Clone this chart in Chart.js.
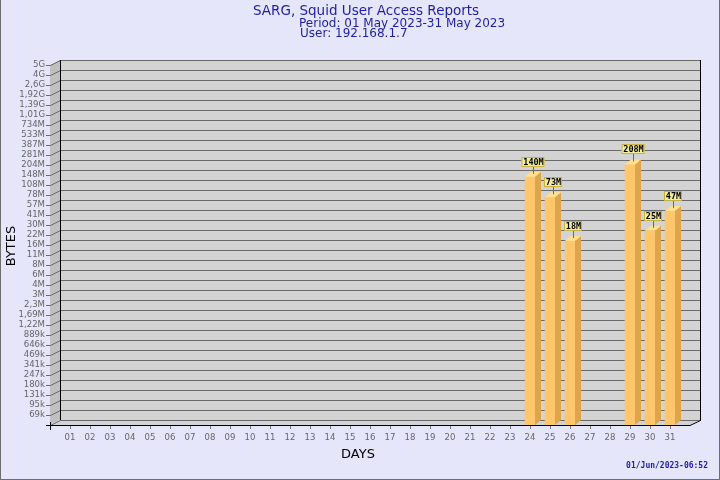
<!DOCTYPE html>
<html>
<head>
<meta charset="utf-8">
<script src="https://cdn.jsdelivr.net/npm/chart.js@4"></script>
<style>
    html, body { margin: 0; padding: 0; background: #e6e6fa; }
    canvas { display: block; }
</style>
</head>
<body>
<canvas id="sarg-chart" width="720" height="480"></canvas>
<script>
// ===== SARG user access chart (3D bar look) =====

const days = ['01', '02', '03', '04', '05', '06', '07', '08', '09', '10',
    '11', '12', '13', '14', '15', '16', '17', '18', '19', '20',
    '21', '22', '23', '24', '25', '26', '27', '28', '29', '30', '31'];

// bytes per day (null = no traffic)
const bytes = [null, null, null, null, null, null, null, null, null, null,
    null, null, null, null, null, null, null, null, null, null,
    null, null, null, 140e6, 73e6, 18e6, null, null, 208e6, 25e6, 47e6];

const yTickLabels = ['5G', '4G', '2,6G', '1,92G', '1,39G', '1,01G', '734M', '533M', '387M',
    '281M', '204M', '148M', '108M', '78M', '57M', '41M', '30M', '22M', '16M', '11M', '8M',
    '6M', '4M', '3M', '2,3M', '1,69M', '1,22M', '889k', '646k', '469k', '341k', '247k',
    '180k', '131k', '95k', '69k'];

const titleLines = ['SARG, Squid User Access Reports', 'Period: 01 May 2023-31 May 2023', 'User: 192.168.1.7'];
const xTitle = 'DAYS';
const yTitle = 'BYTES';
const stamp = '01/Jun/2023-06:52';

// SARG spaces its tick labels evenly on a log scale between the lowest and highest label
const Y_TOP = 5e9;
const Y_LOW = 69e3;
const stepRatio = Math.pow(Y_TOP / Y_LOW, 1 / (yTickLabels.length - 1));
const yTickValues = yTickLabels.map((l, i) => Y_TOP / Math.pow(stepRatio, i));
const Y_MIN = Y_LOW / stepRatio;

const WALL_DX = 10, WALL_DY = -5;   // depth of the back wall
const BAR_DX = 6, BAR_DY = -5;      // depth of each bar
const BAR_FRONT = '#ffc66c';
const BAR_SIDE = '#dea64c';
const BAR_TOP = '#ffe08e';
const NAVY = '#1e1ea0';
const TICK_FONT = { family: '"DejaVu Sans Condensed", "DejaVu Sans"', size: 9.5 };

function fmtBytes(v) {
    return Math.round(v / 1e6) + 'M';
}

function poly(ctx, pts, fill, stroke) {
    ctx.beginPath();
    ctx.moveTo(pts[0][0], pts[0][1]);
    for (let i = 1; i < pts.length; i++) ctx.lineTo(pts[i][0], pts[i][1]);
    ctx.closePath();
    if (fill) { ctx.fillStyle = fill; ctx.fill(); }
    if (stroke) { ctx.strokeStyle = stroke; ctx.stroke(); }
}

function line(ctx, x1, y1, x2, y2, color) {
    ctx.beginPath();
    ctx.moveTo(x1, y1);
    ctx.lineTo(x2, y2);
    ctx.strokeStyle = color;
    ctx.lineWidth = 1;
    ctx.stroke();
}

const sarg3d = {
    id: 'sarg3d',
    beforeDraw(chart) {
        const ctx = chart.ctx;
        ctx.save();
        ctx.fillStyle = '#e6e6fa';
        ctx.fillRect(0, 0, chart.width, chart.height);
        // frame (left, right, bottom)
        line(ctx, 0.5, 0, 0.5, chart.height, '#6e6e6e');
        line(ctx, chart.width - 0.5, 0, chart.width - 0.5, chart.height, '#6e6e6e');
        line(ctx, 0, chart.height - 0.5, chart.width, chart.height - 0.5, '#6e6e6e');
        ctx.restore();
    },
    beforeDatasetsDraw(chart) {
        const ctx = chart.ctx;
        const a = chart.chartArea;
        const y = chart.scales.y;
        const fl = a.left - WALL_DX, fr = a.right + WALL_DX;   // front plane
        const bl = a.left, br = a.right + 2 * WALL_DX;         // back plane
        const top = Math.round(y.getPixelForValue(Y_TOP));
        const bot = Math.round(y.getPixelForValue(Y_MIN));
        ctx.save();
        // back wall
        poly(ctx, [[bl, top + WALL_DY], [br, top + WALL_DY], [br, bot + WALL_DY], [bl, bot + WALL_DY]], '#d3d3d3');
        // left wall
        poly(ctx, [[fl, top], [bl, top + WALL_DY], [bl, bot + WALL_DY], [fl, bot]], '#c0c0c0');
        // floor
        poly(ctx, [[fl, bot], [bl, bot + WALL_DY], [br, bot + WALL_DY], [fr, bot]], '#d3d3d3');

        // grid lines on the back wall + connectors to the tick labels
        yTickValues.concat([Y_MIN]).forEach(v => {
            const py = Math.round(y.getPixelForValue(v)) + 0.5;
            line(ctx, fl - 4, py, fl + 0.5, py, v === Y_MIN ? '#000' : '#6a6a6a');
            line(ctx, fl + 0.5, py, bl + 0.5, py + WALL_DY, '#6a6a6a');
            line(ctx, bl, py + WALL_DY, br, py + WALL_DY, '#6a6a6a');
        });

        // edges
        line(ctx, bl + 0.5, top + WALL_DY, bl + 0.5, bot + WALL_DY, '#000');
        line(ctx, br + 0.5, top + WALL_DY, br + 0.5, bot + WALL_DY + 1, '#000');
        line(ctx, fl, bot + 0.5, fr, bot + 0.5, '#000');
        line(ctx, fr, bot + 0.5, br + 0.5, bot + WALL_DY + 0.5, '#000');
        line(ctx, fl + 0.5, bot - 3, fl + 0.5, bot + 5, '#000');
        ctx.restore();
    },
    afterDatasetsDraw(chart) {
        const ctx = chart.ctx;
        const meta = chart.getDatasetMeta(0);
        ctx.save();
        meta.data.forEach((bar, i) => {
            if (bytes[i] == null) return;
            const half = bar.width / 2;
            const x0 = bar.x - half, x1 = bar.x + half;
            const yt = bar.y, yb = bar.base;
            // side face
            poly(ctx, [[x1, yt], [x1 + BAR_DX, yt + BAR_DY], [x1 + BAR_DX, yb + BAR_DY], [x1, yb]], BAR_SIDE);
            // top face
            poly(ctx, [[x0, yt], [x0 + BAR_DX, yt + BAR_DY], [x1 + BAR_DX, yt + BAR_DY], [x1, yt]], BAR_TOP);

            // value label
            const txt = fmtBytes(bytes[i]);
            ctx.font = 'bold 8.5px "DejaVu Sans Mono"';
            const w = Math.ceil(ctx.measureText(txt).width) + 2;
            const cx = Math.round(bar.x + BAR_DX / 2);
            const by = Math.round(yt) - 20;
            line(ctx, cx + 0.5, by + 10, cx + 0.5, yt - 3, '#6a6a6a');
            ctx.fillStyle = '#f3eca0';
            ctx.fillRect(cx - w / 2, by, w, 10);
            ctx.strokeStyle = '#c9b23c';
            ctx.strokeRect(cx - w / 2 + 0.5, by + 0.5, w - 1, 9);
            ctx.fillStyle = '#000';
            ctx.textAlign = 'center';
            ctx.textBaseline = 'middle';
            ctx.fillText(txt, cx + 0.5, by + 5.5);
        });
        ctx.restore();
    },
    afterDraw(chart) {
        const ctx = chart.ctx;
        ctx.save();
        ctx.fillStyle = NAVY;
        ctx.textBaseline = 'middle';
        ctx.textAlign = 'left';
        ctx.font = '13.5px "DejaVu Sans"';
        ctx.fillText(titleLines[0], 253, 11);
        ctx.font = '12px "DejaVu Sans"';
        ctx.fillText(titleLines[1], 299, 23.5);
        ctx.fillText(titleLines[2], 300, 34);

        ctx.font = 'bold 8px "DejaVu Sans Mono"';
        ctx.textAlign = 'right';
        ctx.fillText(stamp, 708, 466);

        ctx.fillStyle = '#000';
        ctx.font = '13px "DejaVu Sans"';
        ctx.textAlign = 'center';
        ctx.fillText(xTitle, 358, 455);
        ctx.translate(12, 246);
        ctx.rotate(-Math.PI / 2);
        ctx.fillText(yTitle, 0, 0);
        ctx.restore();
    }
};

Chart.defaults.font.family = '"DejaVu Sans"';

const ctx = document.getElementById('sarg-chart').getContext('2d');
window.sargChart = new Chart(ctx, {
    type: 'bar',
    data: {
        labels: days,
        datasets: [{
            data: bytes,
            backgroundColor: BAR_FRONT,
            borderWidth: 0,
            barThickness: 10
        }]
    },
    options: {
        responsive: false,
        animation: false,
        layout: { padding: { top: 65, right: 40, bottom: 0, left: 0 } },
        plugins: {
            legend: { display: false },
            tooltip: { enabled: false }
        },
        scales: {
            x: {
                grid: { offset: false, drawOnChartArea: false, tickLength: 4, color: '#777' },
                border: { display: false },
                ticks: { color: '#666', font: TICK_FONT, padding: 3, autoSkip: false, maxRotation: 0 },
                afterFit: s => { s.height = 55; }
            },
            y: {
                type: 'logarithmic',
                min: Y_MIN,
                max: Y_TOP,
                bounds: 'data',
                grid: { display: false },
                border: { display: false },
                ticks: {
                    autoSkip: false,
                    padding: 7,
                    color: '#666',
                    font: TICK_FONT,
                    callback: (v, i) => yTickLabels[i]
                },
                afterBuildTicks: s => { s.ticks = yTickValues.map(v => ({ value: v })); },
                afterFit: s => { s.width = 60; }
            }
        }
    },
    plugins: [sarg3d]
});
</script>
</body>
</html>
